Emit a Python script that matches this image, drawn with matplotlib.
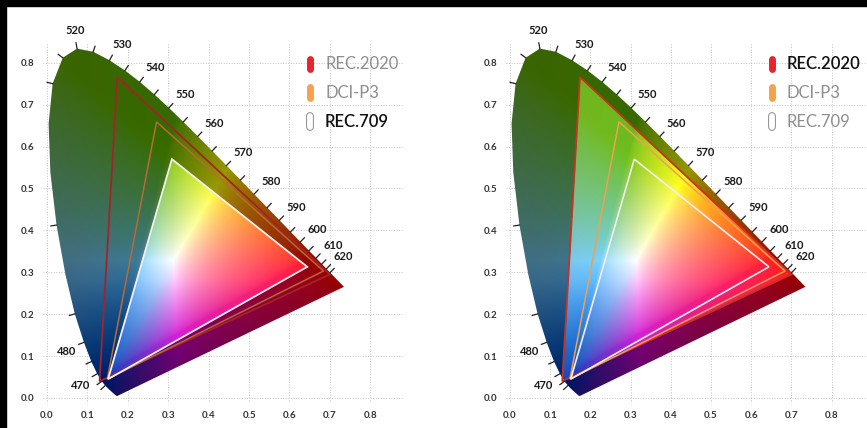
import numpy as np
import matplotlib
matplotlib.use("Agg")
import matplotlib.pyplot as plt
from matplotlib.path import Path
from matplotlib.patches import Polygon, Rectangle
import matplotlib.patheffects as pe

plt.rcParams['font.family'] = ['Lato', 'DejaVu Sans']

# CIE 1931 spectral locus (nm, x, y)
WAVELENGTHS = [380, 420, 440, 450, 455, 460, 465, 470, 475, 480, 485, 490, 495, 500,
               505, 510, 515, 520, 525, 530, 535, 540, 545, 550, 555, 560, 565, 570,
               575, 580, 585, 590, 595, 600, 605, 610, 615, 620, 625, 630, 640, 660, 700]
LOCUS_X = [0.1741, 0.1714, 0.1644, 0.1566, 0.1510, 0.1440, 0.1355, 0.1241, 0.1096, 0.0913,
           0.0687, 0.0454, 0.0235, 0.0082, 0.0039, 0.0139, 0.0389, 0.0743, 0.1142, 0.1547,
           0.1929, 0.2296, 0.2658, 0.3016, 0.3373, 0.3731, 0.4087, 0.4441, 0.4788, 0.5125,
           0.5448, 0.5752, 0.6029, 0.6270, 0.6482, 0.6658, 0.6801, 0.6915, 0.7006, 0.7079,
           0.7190, 0.7300, 0.7347]
LOCUS_Y = [0.0050, 0.0051, 0.0109, 0.0177, 0.0227, 0.0297, 0.0399, 0.0578, 0.0868, 0.1327,
           0.2007, 0.2950, 0.4127, 0.5384, 0.6548, 0.7502, 0.8120, 0.8338, 0.8262, 0.8059,
           0.7816, 0.7543, 0.7243, 0.6923, 0.6589, 0.6245, 0.5896, 0.5547, 0.5202, 0.4866,
           0.4544, 0.4242, 0.3965, 0.3725, 0.3514, 0.3340, 0.3197, 0.3083, 0.2993, 0.2920,
           0.2809, 0.2700, 0.2653]

TICK_NM = [460, 465, 470, 475, 480, 485, 495, 510, 515, 520, 525, 530, 535, 540, 545, 550,
           555, 560, 565, 570, 575, 580, 585, 590, 595, 600, 605, 610, 615, 620, 625]
LABEL_NM = [470, 480, 520, 530, 540, 550, 560, 570, 580, 590, 600, 610, 620]

# gamut triangles as drawn (red, green, blue primaries)
GAMUT_NAMES = ["REC.2020", "DCI-P3", "REC.709"]
REC2020_X = [0.700, 0.174, 0.130]
REC2020_Y = [0.295, 0.766, 0.040]
DCIP3_X = [0.684, 0.271, 0.149]
DCIP3_Y = [0.303, 0.659, 0.045]
REC709_X = [0.644, 0.309, 0.151]
REC709_Y = [0.313, 0.570, 0.045]

LEGEND_COLORS = ["#e8232b", "#f5a24c", "white"]

M = np.array([[3.2406, -1.5372, -0.4986],
              [-0.9689, 1.8758, 0.0415],
              [0.0557, -0.2040, 1.0570]])


def chroma_image(nx=480, ny=540):
    xs = np.linspace(0, 0.8, nx)
    ys = np.linspace(0.001, 0.9, ny)
    X, Y = np.meshgrid(xs, ys)
    XYZ = np.stack([X / Y, np.ones_like(X), (1 - X - Y) / Y], axis=-1)
    rgb = XYZ @ M.T
    rgb = rgb / rgb.max(axis=-1, keepdims=True)
    neg = np.clip(-rgb.min(axis=-1), 0, 1)
    sat = 1 - 0.25 * neg
    rgb = np.clip(rgb, 0, 1) ** (1 / 1.7)
    rgb = rgb * sat[..., None] + (1 - sat[..., None]) * 0.5
    r, g, b = rgb[..., 0].copy(), rgb[..., 1].copy(), rgb[..., 2].copy()
    # softer greens, cyans and blues, closer to the printed diagram
    gdom = np.clip(g - np.maximum(r, b), 0, 1)
    cdom = np.clip(np.minimum(g, b) - r, 0, 1)
    bdom = np.clip(b - np.maximum(r, g), 0, 1)
    rgb[..., 0] += 0.35 * gdom + 0.4 * cdom - 0.2 * bdom
    rgb[..., 1] += -0.3 * gdom - 0.2 * cdom + 0.25 * bdom
    rgb[..., 2] += -0.2 * gdom
    # darker towards the blue / purple bottom
    shade = 0.62 + 0.38 * np.clip(Y / 0.28, 0, 1)
    rgb = rgb * shade[..., None]
    return X, Y, np.clip(rgb, 0, 1)


X, Y, BASE = chroma_image()
RGB = np.clip(0.88 * BASE + 0.12, 0, 1)
DIM = 0.6 * BASE

fig = plt.figure(figsize=(8.67, 4.28), dpi=100, facecolor="white")
ax_l = fig.add_axes([0.0496, 0.0584, 0.4148, 0.839])
ax_r = fig.add_axes([0.5836, 0.0584, 0.422, 0.839])

gamuts = {
    "REC.2020": np.c_[REC2020_X, REC2020_Y],
    "DCI-P3": np.c_[DCIP3_X, DCIP3_Y],
    "REC.709": np.c_[REC709_X, REC709_Y],
}
locus = np.c_[LOCUS_X, LOCUS_Y]


def draw_panel(ax, focus, line_colors, xmax):
    tri = gamuts[focus]
    mask = Path(tri).contains_points(np.c_[X.ravel(), Y.ravel()]).reshape(X.shape)
    img = np.where(mask[..., None], RGB, DIM)
    im = ax.imshow(img, extent=[0, 0.8, 0.001, 0.9], origin="lower",
                   interpolation="bilinear", aspect="auto", zorder=1)
    clip = Polygon(locus, closed=True, facecolor="none", edgecolor="none")
    ax.add_patch(clip)
    im.set_clip_path(clip)

    for name in GAMUT_NAMES:
        c, lw = line_colors[name]
        ax.add_patch(Polygon(gamuts[name], closed=True, fill=False, edgecolor=c,
                             lw=lw, zorder=3, joinstyle="miter"))

    # wavelength ticks and labels
    for nm in TICK_NM:
        i = WAVELENGTHS.index(nm)
        p = locus[i]
        t = locus[i + 1] - locus[i - 1]
        n = np.array([t[1], -t[0]])
        n = n / np.hypot(*n)
        if np.dot(n, p - np.array([0.33, 0.33])) < 0:
            n = -n
        ax.plot([p[0], p[0] + n[0] * 0.014], [p[1], p[1] + n[1] * 0.014],
                color="#222222", lw=0.9, zorder=4, clip_on=False)
        if nm in LABEL_NM:
            ax.annotate(str(nm), p, xytext=(n[0] * 15 + 1.5, n[1] * 15 - 1.5),
                        textcoords="offset points", ha="center", va="center",
                        fontsize=8, fontweight="bold", color="#1a1a1a",
                        annotation_clip=False, zorder=5)

    ax.set_xlim(-0.01, xmax)
    ax.set_ylim(-0.012, 0.845)
    ticks = np.arange(0, 0.81, 0.1)
    ax.set_xticks(ticks)
    ax.set_yticks(ticks)
    ax.set_xticklabels([f"{v:.1f}" for v in ticks])
    ax.set_yticklabels([f"{v:.1f}" for v in ticks])
    ax.tick_params(length=0, labelsize=7, colors="#333333", pad=6)
    for lab in ax.get_xticklabels() + ax.get_yticklabels():
        lab.set_fontweight("bold")
    ax.grid(True, ls=":", color="#c4c4c4", lw=0.7)
    ax.set_axisbelow(True)
    for s in ax.spines.values():
        s.set_visible(False)
    ax.set_facecolor("white")

    # legend
    for k, name in enumerate(GAMUT_NAMES):
        yc = 0.797 - k * 0.069
        if name == "REC.709":
            ax.plot([0.651, 0.651], [yc - 0.013, yc + 0.013], color="white", lw=4.2,
                    solid_capstyle="round", clip_on=False, zorder=6,
                    path_effects=[pe.Stroke(linewidth=5.6, foreground="#8c8c8c"), pe.Normal()])
        else:
            ax.plot([0.651, 0.651], [yc - 0.013, yc + 0.013], color=LEGEND_COLORS[k],
                    lw=5, solid_capstyle="round", clip_on=False, zorder=6)
        hi = name == focus
        ax.text(0.688, yc, name, ha="left", va="center", fontsize=12,
                color="#111111" if hi else "#8e8e8e",
                fontweight="semibold" if hi else "normal", zorder=6)


draw_panel(ax_l, "REC.709",
           {"REC.2020": ("#a3232a", 1.3), "DCI-P3": ("#b86a34", 1.1), "REC.709": ("#f4f0ee", 1.3)},
           0.88)
draw_panel(ax_r, "REC.2020",
           {"REC.2020": ("#c8321e", 1.3), "DCI-P3": ("#f0a050", 1.1), "REC.709": ("#f4eeee", 1.2)},
           0.9)

# black frame strips at top and left
fig.add_artist(Rectangle((0, 1 - 6 / 428), 1, 6 / 428, transform=fig.transFigure,
                         color="black", zorder=20))
fig.add_artist(Rectangle((0, 0), 6 / 867, 1, transform=fig.transFigure,
                         color="black", zorder=20))

fig.savefig("out.png", dpi=100, facecolor="white")
